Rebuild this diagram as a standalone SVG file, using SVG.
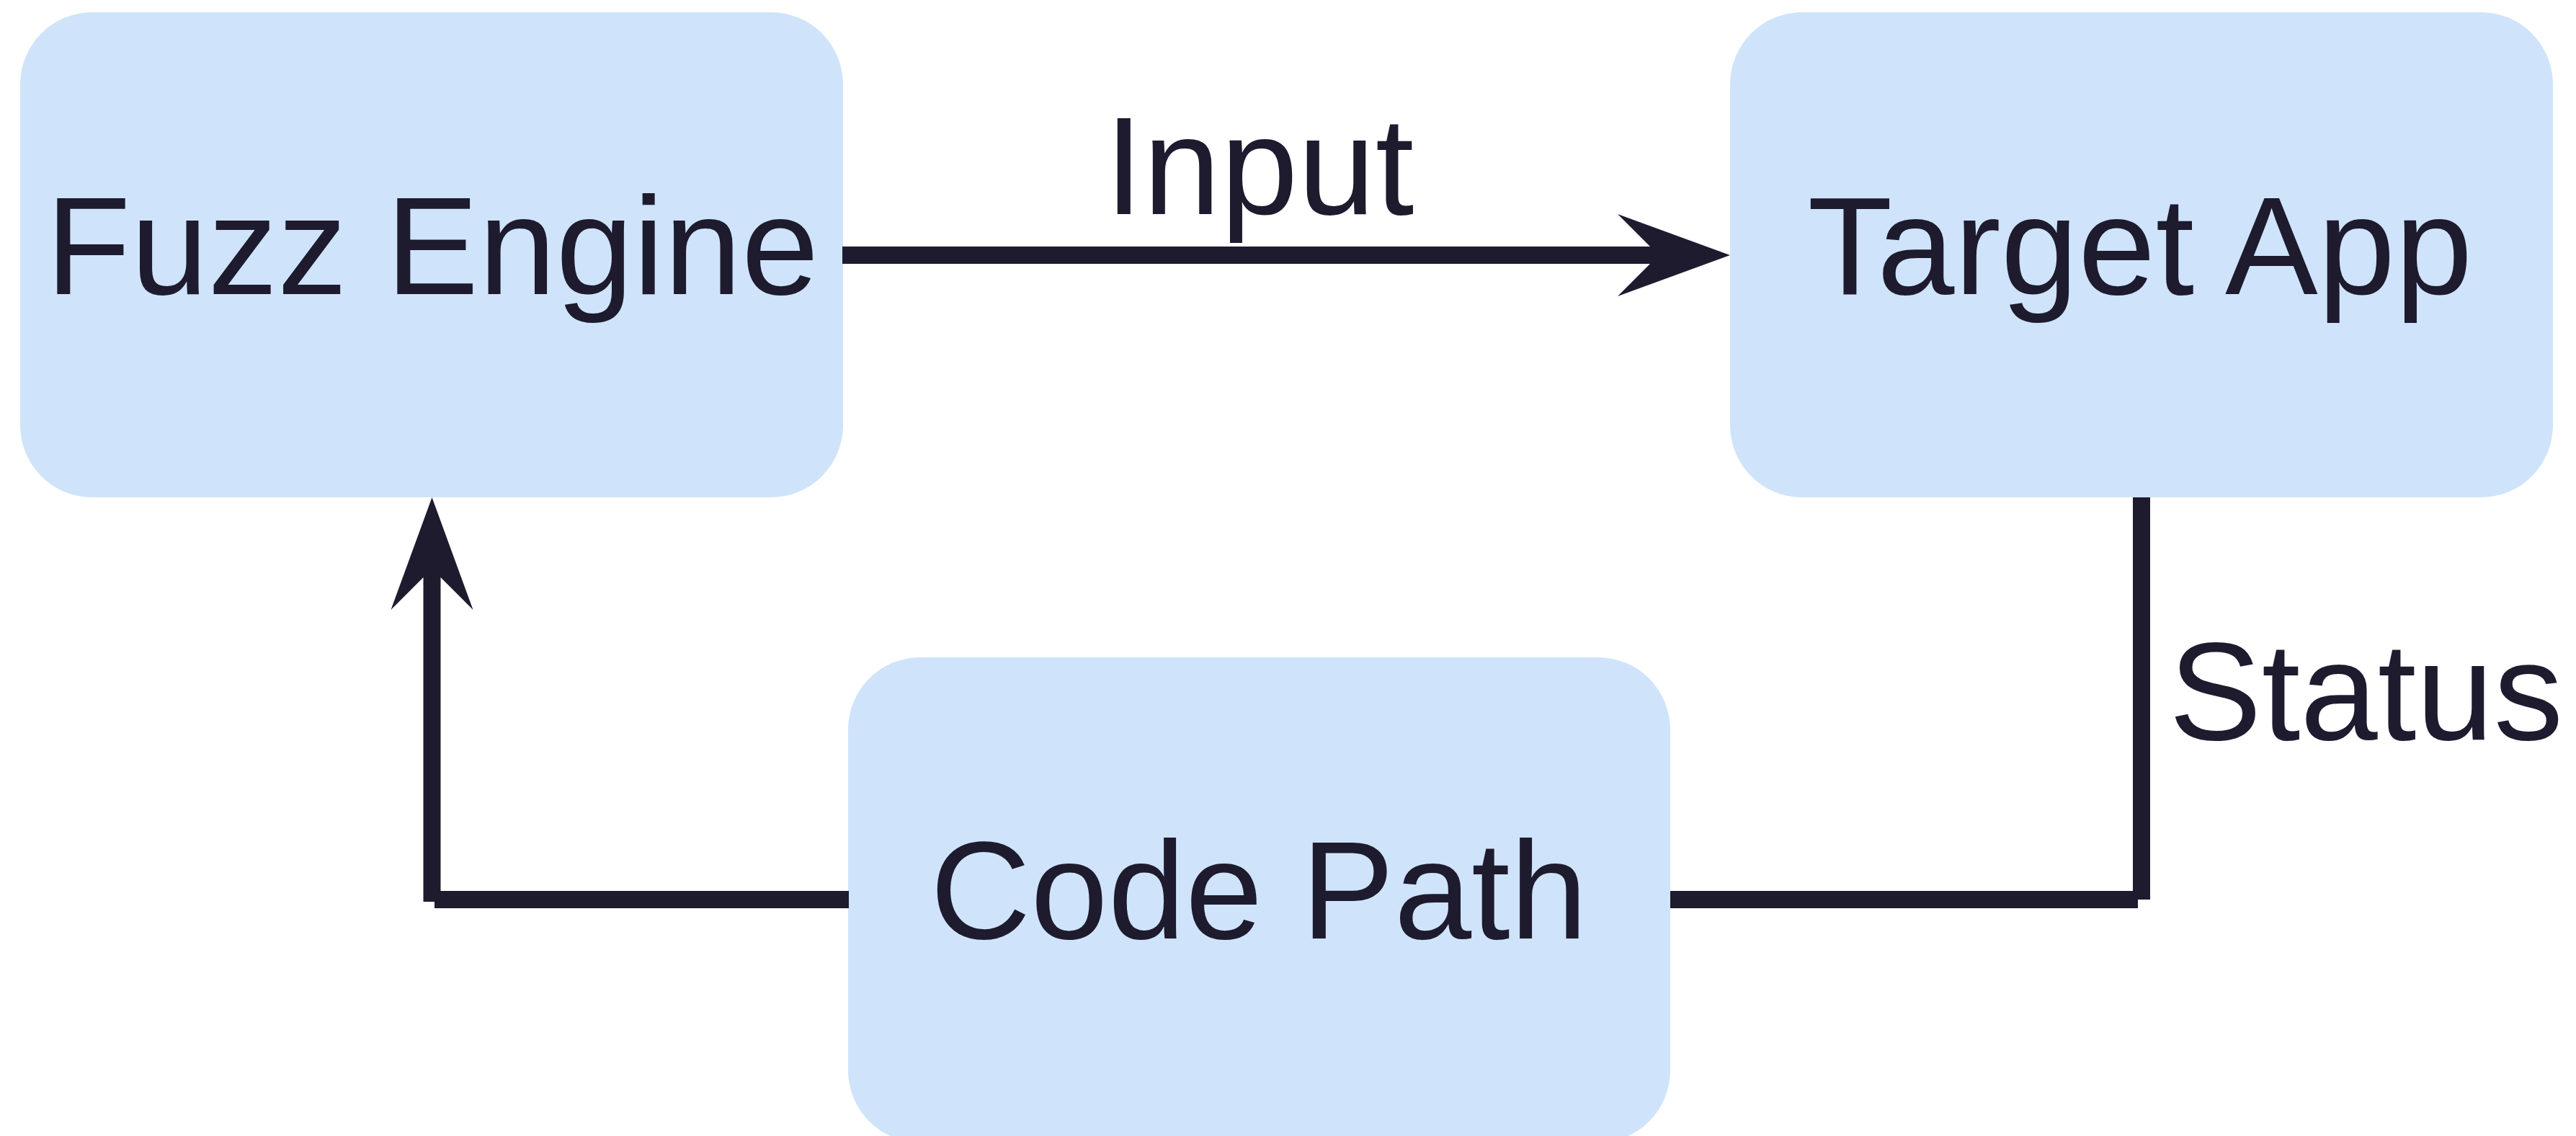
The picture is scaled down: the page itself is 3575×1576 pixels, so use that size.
<svg xmlns="http://www.w3.org/2000/svg" width="3575" height="1576" viewBox="0 0 3575 1576">
  <style>
    .node { fill: #cfe4fa; }
    .label { font-family: "Liberation Sans", Arial, sans-serif; font-size: 193px; fill: #1e1b2f; }
    .wire { fill: none; stroke: #1e1b2f; stroke-width: 24; stroke-linecap: butt; }
  </style>
  <defs>
    <!-- notched arrowhead; refX sits on the notch so the shaft ends inside it -->
    <marker id="head" markerUnits="userSpaceOnUse" markerWidth="160" markerHeight="120" viewBox="0 -60 160 120" refX="57" refY="0" orient="auto" overflow="visible">
      <path d="M0,-57 L156,0 L0,57 L57,0 Z" fill="#1e1b2f"/>
    </marker>
  </defs>

  <rect width="3575" height="1576" fill="#ffffff"/>

  <g id="node-fuzz-engine">
    <rect class="node" x="28" y="17" width="1142" height="673" rx="100" ry="100"/>
    <text class="label" x="600" y="408" text-anchor="middle">Fuzz Engine</text>
  </g>

  <g id="node-target-app">
    <rect class="node" x="2401" y="17" width="1142" height="673" rx="100" ry="100"/>
    <text class="label" x="2970" y="408" text-anchor="middle">Target App</text>
  </g>

  <g id="node-code-path">
    <rect class="node" x="1177" y="912" width="1141" height="673" rx="100" ry="100"/>
    <text class="label" x="1747" y="1302" text-anchor="middle">Code Path</text>
  </g>

  <g id="connectors">
    <!-- Fuzz Engine -> Target App -->
    <path class="wire" d="M1169,354 L2302,354" marker-end="url(#head)"/>
    <text class="label" x="1533" y="297">Input</text>

    <!-- Target App -> Code Path -->
    <path class="wire" d="M2972,690 L2972,1248"/>
    <path class="wire" d="M2967,1248 L2318,1248"/>
    <text class="label" x="3010" y="1026">Status</text>

    <!-- Code Path -> Fuzz Engine -->
    <path class="wire" d="M1178,1248 L603,1248"/>
    <path class="wire" d="M599.5,1251 L599.5,789" marker-end="url(#head)"/>
  </g>
</svg>
